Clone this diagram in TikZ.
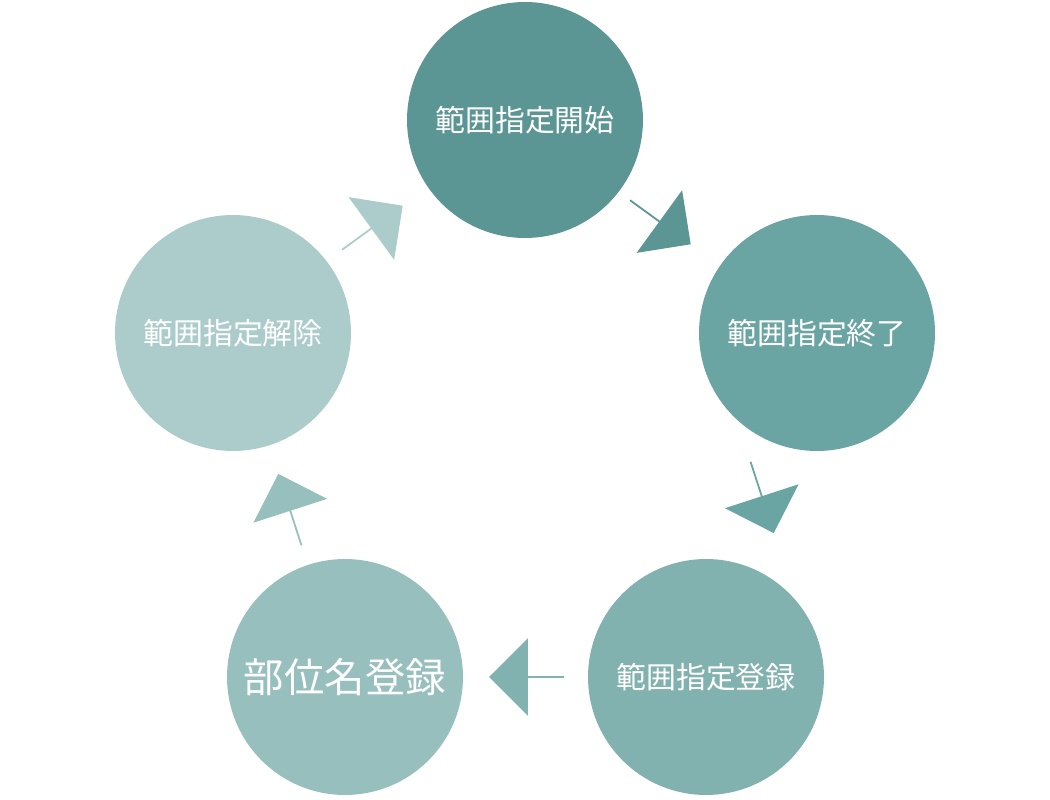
\documentclass[tikz,border=0pt]{standalone}
\usepackage{fontspec}
\newfontfamily\cjk{Noto Sans CJK JP}
\usetikzlibrary{shapes.arrows}
\definecolor{cA}{HTML}{5B9594}
\definecolor{cB}{HTML}{6AA5A3}
\definecolor{cC}{HTML}{82B2B0}
\definecolor{cD}{HTML}{96BFBD}
\definecolor{cE}{HTML}{ACCCCB}
\tikzset{
  step circ/.style={circle, minimum size=4.72cm, inner sep=0pt, text=white, font=\cjk\fontsize{17}{20}\selectfont},
  blk/.style={single arrow, minimum height=1.5cm, minimum width=1.55cm, single arrow head extend=0.3cm, inner sep=0pt}
}
\begin{document}
\begin{tikzpicture}[x=0.02cm,y=-0.02cm]
\useasboundingbox (0,0) rectangle (1050,800);

% circles
\node[step circ, fill=cA] (start) at (525,120) {範囲指定開始};
\node[step circ, fill=cB] (end) at (817,333) {範囲指定終了};
\node[step circ, fill=cC] (reg) at (706,677) {範囲指定登録};
\node[step circ, fill=cD, font=\cjk\fontsize{23}{26}\selectfont] (name) at (345,677) {部位名登録};
\node[step circ, fill=cE] (clear) at (233,333) {範囲指定解除};

% arrows
\node[blk, fill=cA, rotate=-36] (a1) at (660,222) {};
\node[blk, fill=cB, rotate=-72] (a2) at (762,497) {};
\node[blk, fill=cC, rotate=180] (a3) at (527,677) {};
\node[blk, fill=cD, rotate=108] (a4) at (290,510) {};
\node[blk, fill=cE, rotate=36] (a5) at (372,228) {};
\end{tikzpicture}
\end{document}
